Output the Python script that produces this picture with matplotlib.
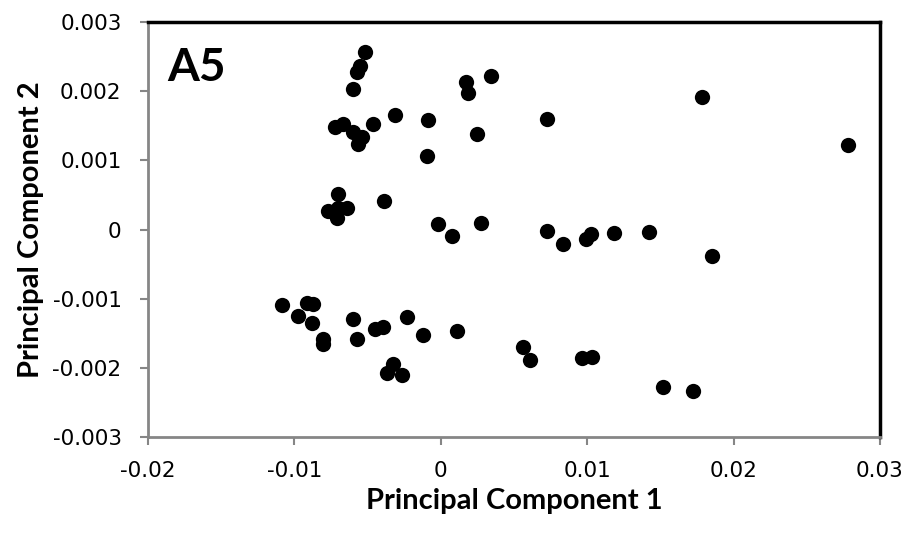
import matplotlib.pyplot as plt

# PC scores
pc1 = [-0.00517, -0.00551, -0.00574, -0.00597, 0.00173, 0.00186, 0.00342,
       -0.00722, -0.00665, -0.00597, -0.0054, -0.00563, -0.00465, -0.00314,
       -0.00085, -0.00096, 0.00246, 0.00728, 0.01785, 0.02782,
       -0.00704, -0.0077, -0.00702, -0.0064, -0.00708, -0.0039,
       -0.00016, 0.00075, 0.00273, 0.00724, 0.00833, 0.0099, 0.01027,
       0.01184, 0.01425, 0.01853,
       -0.01086, -0.00915, -0.0087, -0.00973, -0.00881, -0.00806, -0.00802,
       -0.00601, -0.00574, -0.00449, -0.00392, -0.00232, -0.00123, 0.00109,
       -0.00324, -0.00369, -0.00266, 0.0056, 0.0061, 0.00963, 0.01036,
       0.0152, 0.01721]
pc2 = [0.00256, 0.00237, 0.00227, 0.00203, 0.00213, 0.00198, 0.00222,
       0.00148, 0.00152, 0.00141, 0.00134, 0.00124, 0.00152, 0.00166,
       0.00159, 0.00106, 0.00138, 0.0016, 0.00192, 0.00122,
       0.00052, 0.00027, 0.00031, 0.00031, 0.00017, 0.00041,
       0.00008, -0.00009, 0.0001, -0.00002, -0.00021, -0.00014, -0.00006,
       -0.00005, -0.00003, -0.00038,
       -0.00109, -0.00106, -0.00108, -0.00125, -0.00135, -0.00158, -0.00166,
       -0.0013, -0.00158, -0.00144, -0.00141, -0.00127, -0.00153, -0.00146,
       -0.00195, -0.00207, -0.0021, -0.0017, -0.00189, -0.00186, -0.00185,
       -0.00227, -0.00234]

xticks = [-0.02, -0.01, 0, 0.01, 0.02, 0.03]
xlabels = ['-0.02', '-0.01', '0', '0.01', '0.02', '0.03']
yticks = [-0.003, -0.002, -0.001, 0, 0.001, 0.002, 0.003]
ylabels = ['-0.003', '-0.002', '-0.001', '0', '0.001', '0.002', '0.003']

plt.rcParams['font.family'] = ['Lato', 'DejaVu Sans']

fig = plt.figure(figsize=(9.09, 5.34), dpi=100)
ax = fig.add_axes([0.1628, 0.1816, 0.8052, 0.7772])

ax.plot(pc1, pc2, 'o', color='black', markersize=11, markeredgewidth=0)

ax.set_xlim(-0.02, 0.03)
ax.set_ylim(-0.003, 0.003)
ax.set_xticks(xticks)
ax.set_xticklabels(xlabels, family='DejaVu Sans', fontsize=15.5)
ax.set_yticks(yticks)
ax.set_yticklabels(ylabels, family='DejaVu Sans', fontsize=15.5)
ax.tick_params(direction='out', length=6, width=1.5, color='#868686')
ax.tick_params(axis='x', pad=11)
ax.tick_params(axis='y', pad=13)

for s in ['left', 'bottom']:
    ax.spines[s].set_color('#868686')
    ax.spines[s].set_linewidth(2)
for s in ['top', 'right']:
    ax.spines[s].set_color('black')
    ax.spines[s].set_linewidth(2.5)

ax.set_xlabel('Principal Component 1', fontsize=21, fontweight='bold', labelpad=5)
ax.set_ylabel('Principal Component 2', fontsize=21, fontweight='bold', labelpad=6)

ax.text(0.027, 0.94, 'A5', transform=ax.transAxes, fontsize=33,
        fontweight='bold', va='top', ha='left')

fig.savefig('out.png', dpi=100)
